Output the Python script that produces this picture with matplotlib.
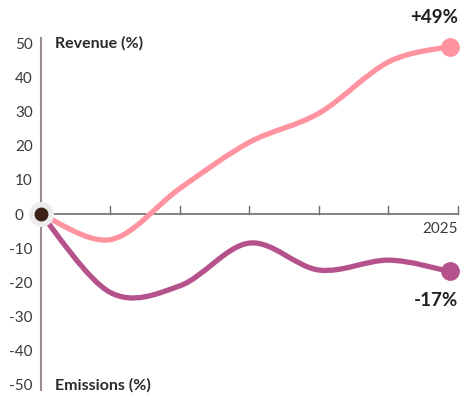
import numpy as np
import matplotlib
matplotlib.use('Agg')
import matplotlib.pyplot as plt
from matplotlib.path import Path
from matplotlib.patches import PathPatch
from matplotlib.ticker import FuncFormatter
from matplotlib.transforms import ScaledTranslation

plt.rcParams['font.family'] = ['Lato', 'DejaVu Sans']

tick_years = [2019, 2020, 2021, 2022, 2023, 2024, 2025]
x_pts = [2019, 2020, 2021, 2022, 2023, 2024, 2024.88]
revenue = [0, -7.5, 7.5, 21, 29.5, 44.5, 49]
emissions = [0, -23, -21, -8.5, -16.4, -13.5, -16.8]

c_rev = '#ff939f'
c_emi = '#b5528c'


def smooth_path(x, y):
    # Catmull-Rom als Bezier-Pfad
    x = np.asarray(x, float)
    y = np.asarray(y, float)
    n = len(x)
    verts = [(x[0], y[0])]
    codes = [Path.MOVETO]
    for i in range(n - 1):
        j0 = max(i - 1, 0)
        j3 = min(i + 2, n - 1)
        c1 = (x[i] + (x[i + 1] - x[j0]) / 6, y[i] + (y[i + 1] - y[j0]) / 6)
        c2 = (x[i + 1] - (x[j3] - x[i]) / 6, y[i + 1] - (y[j3] - y[i]) / 6)
        verts += [c1, c2, (x[i + 1], y[i + 1])]
        codes += [Path.CURVE4] * 3
    return Path(verts, codes)


fig = plt.figure(figsize=(4.61, 3.94), dpi=100)
ax = fig.add_axes([41 / 461, 4 / 394, 417 / 461, 352 / 394])
ax.set_xlim(tick_years[0], tick_years[-1])
ax.set_ylim(-51.5, 51.5)

for s in ['top', 'right', 'bottom']:
    ax.spines[s].set_visible(False)
ax.spines['left'].set_color('#9a8f8c')
ax.spines['left'].set_linewidth(1.5)

ax.axhline(0, color='#6e6e6e', lw=1.2, zorder=1)
for yr in tick_years[1:]:
    ax.plot([yr, yr], [0, 2.2], color='#6e6e6e', lw=1.0, zorder=1, clip_on=False)

ax.set_xticks([])
ax.set_yticks(range(-50, 51, 10))
ax.yaxis.set_major_formatter(FuncFormatter(lambda v, p: '%d' % v))
ax.tick_params(axis='y', length=0, pad=6, labelsize=11, labelcolor='#3a3a3a')

# die 0 sitzt links neben dem Startpunkt
fig.canvas.draw()
for lab in ax.get_yticklabels():
    if lab.get_text() == '0':
        lab.set_transform(lab.get_transform() + ScaledTranslation(-0.09, 0, fig.dpi_scale_trans))

ax.add_patch(PathPatch(smooth_path(x_pts, revenue), fc='none', ec=c_rev, lw=3.8,
                       capstyle='round', zorder=3, clip_on=False))
ax.add_patch(PathPatch(smooth_path(x_pts, emissions), fc='none', ec=c_emi, lw=3.8,
                       capstyle='round', zorder=3, clip_on=False))

ax.plot(x_pts[-1], revenue[-1], 'o', ms=12.5, color=c_rev, zorder=4, clip_on=False)
ax.plot(x_pts[-1], emissions[-1], 'o', ms=12.5, color=c_emi, zorder=4, clip_on=False)
ax.plot(x_pts[0], 0, 'o', ms=17, color='#ececec', zorder=5, clip_on=False)
ax.plot(x_pts[0], 0, 'o', ms=9, color='#3b2318', zorder=6, clip_on=False)

ax.text(tick_years[0] + 0.2, 50, 'Revenue (%)', fontsize=11.5, fontweight='bold',
        color='#2a2a2a', va='center', ha='left')
ax.text(tick_years[0] + 0.2, -50, 'Emissions (%)', fontsize=11.5, fontweight='bold',
        color='#2a2a2a', va='center', ha='left')
ax.text(tick_years[-1], -4.5, str(tick_years[-1]), fontsize=11, color='#3a3a3a',
        ha='right', va='center')
ax.text(tick_years[-1], revenue[-1] + 8.5, '+49%', fontsize=13.5, fontweight='bold',
        color='#1e1e1e', ha='right', va='center')
ax.text(tick_years[-1], emissions[-1] - 8.5, '-17%', fontsize=13.5, fontweight='bold',
        color='#1e1e1e', ha='right', va='center')

plt.savefig('out.png', dpi=100)
